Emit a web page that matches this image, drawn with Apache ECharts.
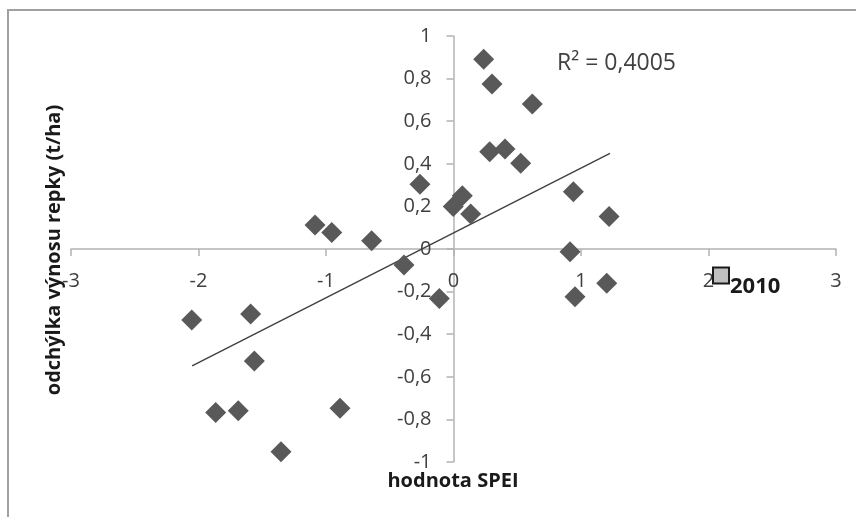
<!DOCTYPE html>
<html>
<head>
<meta charset="utf-8">
<script src="https://cdn.jsdelivr.net/npm/echarts@6/dist/echarts.min.js"></script>
<style>
  html, body { margin: 0; padding: 0; background: #fff; }
  #container { width: 856px; height: 517px; }
</style>
</head>
<body>
<div id="container"></div>
<script>
// hodnota SPEI (x) a odchylka vynosu repky (y)
var spei = [0.237, 0.302, 0.618, 0.284, 0.404, 0.527, -0.263, 0.069, -0.002, 0.135,
    0.940, -1.086, -0.955, -0.642, 0.914, 1.220, -0.388, -0.111, 0.953, -0.890,
    1.202, -2.053, -1.591, -1.562, -1.865, -1.688, -1.353];
var odchylka = [0.891, 0.775, 0.681, 0.457, 0.469, 0.402, 0.304, 0.250, 0.199, 0.164,
    0.269, 0.113, 0.078, 0.039, -0.013, 0.152, -0.075, -0.232, -0.224, -0.748,
    -0.161, -0.333, -0.305, -0.526, -0.768, -0.759, -0.952];

// rok 2010 zvlast
var rok2010 = [2.098, -0.124];

// linearni trend (konce usecky)
var trendX = [-2.05, 1.227];
var trendY = [-0.549, 0.449];
var r2Text = 'R\u00b2 = 0,4005';

var xTicks = [-3, -2, -1, 0, 1, 2, 3];
var yMin = -1, yMax = 1;

var myChart = echarts.init(document.getElementById('container'));

var points = spei.map(function (x, i) { return [x, odchylka[i]]; });
var trend = trendX.map(function (x, i) { return [x, trendY[i]]; });

var W = 856, H = 517;
var grid = { left: 71, right: 20, top: 36, bottom: 55 };
var gridW = W - grid.left - grid.right;
var gridH = H - grid.top - grid.bottom;
var xMin = xTicks[0], xMax = xTicks[xTicks.length - 1];
// osy se krizi v nule
var xAxisOffset = -gridH * (0 - yMin) / (yMax - yMin);
var yAxisOffset = -gridW * (0 - xMin) / (xMax - xMin);

var labelFont = 'Open Sans';
var axisColor = '#b3b3b3';
var option = {
    animation: false,
    backgroundColor: '#fff',
    grid: grid,
    xAxis: {
        type: 'value',
        position: 'bottom',
        offset: xAxisOffset,
        min: xMin,
        max: xMax,
        interval: 1,
        axisLine: { onZero: false, lineStyle: { color: axisColor, width: 1.5 } },
        axisTick: { show: true, length: 7, lineStyle: { color: axisColor, width: 1.5 } },
        splitLine: { show: false },
        axisLabel: {
            fontFamily: labelFont,
            fontSize: 20,
            color: '#404040',
            margin: 22,
            showMinLabel: true,
            showMaxLabel: true
        }
    },
    yAxis: {
        type: 'value',
        position: 'left',
        offset: yAxisOffset,
        min: yMin,
        max: yMax,
        interval: 0.2,
        axisLine: { onZero: false, lineStyle: { color: axisColor, width: 1.5 } },
        axisTick: { show: true, length: 7, lineStyle: { color: axisColor, width: 1.5 } },
        splitLine: { show: false },
        axisLabel: {
            fontFamily: labelFont,
            fontSize: 20,
            color: '#404040',
            margin: 22,
            showMinLabel: true,
            showMaxLabel: true,
            formatter: function (v) {
                return String(Math.round(v * 10) / 10).replace('.', ',');
            }
        }
    },
    graphic: [
        {
            type: 'rect',
            shape: { x: 8, y: 10, width: 900, height: 600 },
            style: { fill: 'none', stroke: '#a0a0a0', lineWidth: 2 },
            silent: true
        },
        {
            type: 'text',
            x: 453,
            y: 481,
            style: {
                text: 'hodnota SPEI',
                font: 'bold 20px "Open Sans"',
                fill: '#1a1a1a',
                align: 'center',
                verticalAlign: 'middle'
            }
        },
        {
            type: 'text',
            x: 54,
            y: 250,
            rotation: Math.PI / 2,
            style: {
                text: 'odchýlka výnosu repky (t/ha)',
                font: 'bold 20px "Open Sans"',
                fill: '#1a1a1a',
                align: 'center',
                verticalAlign: 'middle'
            }
        },
        {
            type: 'text',
            x: 557,
            y: 63,
            style: {
                text: r2Text,
                font: '23px "Open Sans"',
                fill: '#404040',
                align: 'left',
                verticalAlign: 'middle'
            }
        }
    ],
    series: [
        {
            type: 'line',
            data: trend,
            symbol: 'none',
            z: 1,
            lineStyle: { color: '#404040', width: 1.4 }
        },
        {
            type: 'scatter',
            data: points,
            symbol: 'diamond',
            symbolSize: 21,
            z: 2,
            itemStyle: { color: '#595959', opacity: 1 }
        },
        {
            type: 'scatter',
            data: [rok2010],
            symbol: 'rect',
            symbolSize: 16,
            z: 3,
            itemStyle: { color: '#bfbfbf', borderColor: '#1a1a1a', borderWidth: 2, opacity: 1 },
            label: {
                show: true,
                position: 'right',
                distance: 0,
                offset: [0, 11],
                formatter: '2010',
                fontFamily: labelFont,
                fontWeight: 'bold',
                fontSize: 22,
                color: '#1a1a1a'
            }
        }
    ]
};

myChart.setOption(option, true);
window.onresize = function () {
    myChart.resize();
};
</script>
</body>
</html>
